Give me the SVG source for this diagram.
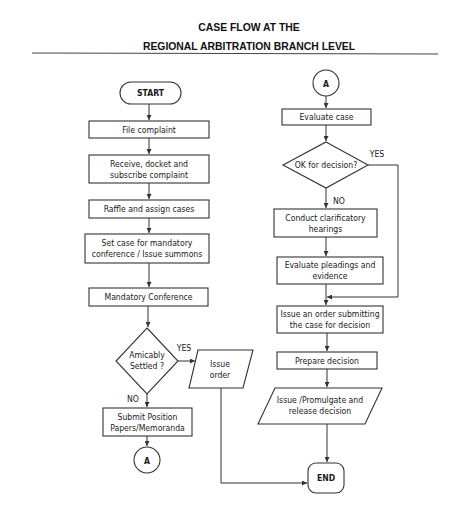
<svg xmlns="http://www.w3.org/2000/svg" width="474" height="507" viewBox="0 0 474 507">
<style>
.s{fill:#fff;stroke:#333;stroke-width:1.1}
.t{font-family:"Liberation Sans Narrow","DejaVu Sans Condensed","Liberation Sans",sans-serif;font-size:8.6px;fill:#1a1a1a;text-anchor:middle}
.b{font-weight:bold}
.h{font-family:"Liberation Sans",Arial,sans-serif;font-weight:bold;font-size:10.4px;fill:#111;text-anchor:middle}
.c{fill:none;stroke:#333;stroke-width:1}
</style>
<defs>
<marker id="a" viewBox="0 0 6 6" refX="6" refY="3" markerWidth="5" markerHeight="5" orient="auto"><path d="M0,0L6,3L0,6z" fill="#333"/></marker>
</defs>
<rect width="474" height="507" fill="#fff"/>
<g id="title">
<text class="h" x="249" y="31">CASE FLOW AT THE</text>
<text class="h" x="249" y="50">REGIONAL ARBITRATION BRANCH LEVEL</text>
<line x1="32" y1="53" x2="438" y2="54" stroke="#444" stroke-width="1"/>
</g>
<g id="connectors">
<line class="c" x1="149" y1="104" x2="149" y2="120" marker-end="url(#a)"/>
<line class="c" x1="149" y1="138" x2="149" y2="154" marker-end="url(#a)"/>
<line class="c" x1="149" y1="183" x2="149" y2="199" marker-end="url(#a)"/>
<line class="c" x1="149" y1="218" x2="149" y2="233" marker-end="url(#a)"/>
<line class="c" x1="149" y1="263" x2="149" y2="287" marker-end="url(#a)"/>
<line class="c" x1="148" y1="306" x2="148" y2="327" marker-end="url(#a)"/>
<line class="c" x1="178" y1="361" x2="195" y2="361" marker-end="url(#a)"/>
<line class="c" x1="147" y1="394" x2="147" y2="407" marker-end="url(#a)"/>
<line class="c" x1="147" y1="436" x2="147" y2="446" marker-end="url(#a)"/>
<polyline class="c" points="221,388 221,483 307,483" marker-end="url(#a)"/>
<line class="c" x1="326" y1="96" x2="326" y2="108" marker-end="url(#a)"/>
<line class="c" x1="326" y1="125" x2="326" y2="141" marker-end="url(#a)"/>
<line class="c" x1="326" y1="188" x2="326" y2="208" marker-end="url(#a)"/>
<line class="c" x1="326" y1="237" x2="326" y2="256" marker-end="url(#a)"/>
<line class="c" x1="326" y1="284" x2="326" y2="305" marker-end="url(#a)"/>
<polyline class="c" points="368,165 398,165 398,297 327,297" marker-end="url(#a)"/>
<line class="c" x1="327" y1="333" x2="327" y2="351" marker-end="url(#a)"/>
<line class="c" x1="327" y1="369" x2="327" y2="387" marker-end="url(#a)"/>
<line class="c" x1="327" y1="424" x2="327" y2="462" marker-end="url(#a)"/>
<text class="t" x="184" y="351">YES</text>
<text class="t" x="133" y="402">NO</text>
<text class="t" x="377" y="157">YES</text>
<text class="t" x="339" y="204">NO</text>
</g>
<g id="start"><rect class="s" x="120" y="82" width="61" height="22" rx="11"/><text class="t b" x="150.5" y="96">START</text></g>
<g id="file"><rect class="s" x="89" y="121" width="120" height="17"/><text class="t" x="149" y="132.5">File complaint</text></g>
<g id="receive"><rect class="s" x="89" y="155" width="120" height="28"/><text class="t" x="149" y="166.5">Receive, docket  and</text><text class="t" x="149" y="177.5">subscribe complaint</text></g>
<g id="raffle"><rect class="s" x="89" y="200" width="120" height="18"/><text class="t" x="149" y="212">Raffle and assign cases</text></g>
<g id="setcase"><rect class="s" x="85" y="234" width="124" height="29"/><text class="t" x="147" y="246">Set case for mandatory</text><text class="t" x="147" y="257">conference / Issue summons</text></g>
<g id="mandatory"><rect class="s" x="89" y="288" width="119" height="18"/><text class="t" x="148.5" y="300">Mandatory Conference</text></g>
<g id="amicably"><polygon class="s" points="147,328 178,361 147,394 116,361"/><text class="t" x="147" y="358">Amicably</text><text class="t" x="147" y="369">Settled ?</text></g>
<g id="issueorder"><polygon class="s" points="198,350 253,350 243,388 189,388"/><text class="t" x="220" y="367">Issue</text><text class="t" x="220" y="378">order</text></g>
<g id="submit"><rect class="s" x="103" y="408" width="89" height="28"/><text class="t" x="147.5" y="419.5">Submit  Position</text><text class="t" x="147.5" y="430.5">Papers/Memoranda</text></g>
<g id="a1"><circle class="s" cx="147" cy="460" r="13"/><text class="t b" x="147" y="463.5">A</text></g>
<g id="a2"><circle class="s" cx="326" cy="83" r="13"/><text class="t b" x="326" y="86.5">A</text></g>
<g id="evaluate"><rect class="s" x="282" y="109" width="89" height="16"/><text class="t" x="326.5" y="120">Evaluate case</text></g>
<g id="ok"><polygon class="s" points="326,142 368,165 326,188 283,165"/><text class="t" x="326" y="168">OK for decision?</text></g>
<g id="conduct"><rect class="s" x="274" y="209" width="103" height="28"/><text class="t" x="325.5" y="220.5">Conduct clarificatory</text><text class="t" x="325.5" y="231.5">hearings</text></g>
<g id="pleadings"><rect class="s" x="277" y="257" width="106" height="27"/><text class="t" x="330" y="268">Evaluate pleadings and</text><text class="t" x="330" y="279">evidence</text></g>
<g id="issueanorder"><rect class="s" x="277" y="306" width="106" height="27"/><text class="t" x="330" y="317">Issue an order submitting</text><text class="t" x="330" y="328">the case for decision</text></g>
<g id="prepare"><rect class="s" x="277" y="352" width="100" height="17"/><text class="t" x="327" y="363.5">Prepare decision</text></g>
<g id="promulgate"><polygon class="s" points="275,388 382,388 365,424 258,424"/><text class="t" x="320" y="403">Issue /Promulgate and</text><text class="t" x="320" y="414">release decision</text></g>
<g id="end"><rect class="s" x="308" y="463" width="36" height="30" rx="8"/><text class="t b" x="326" y="481">END</text></g>
</svg>
